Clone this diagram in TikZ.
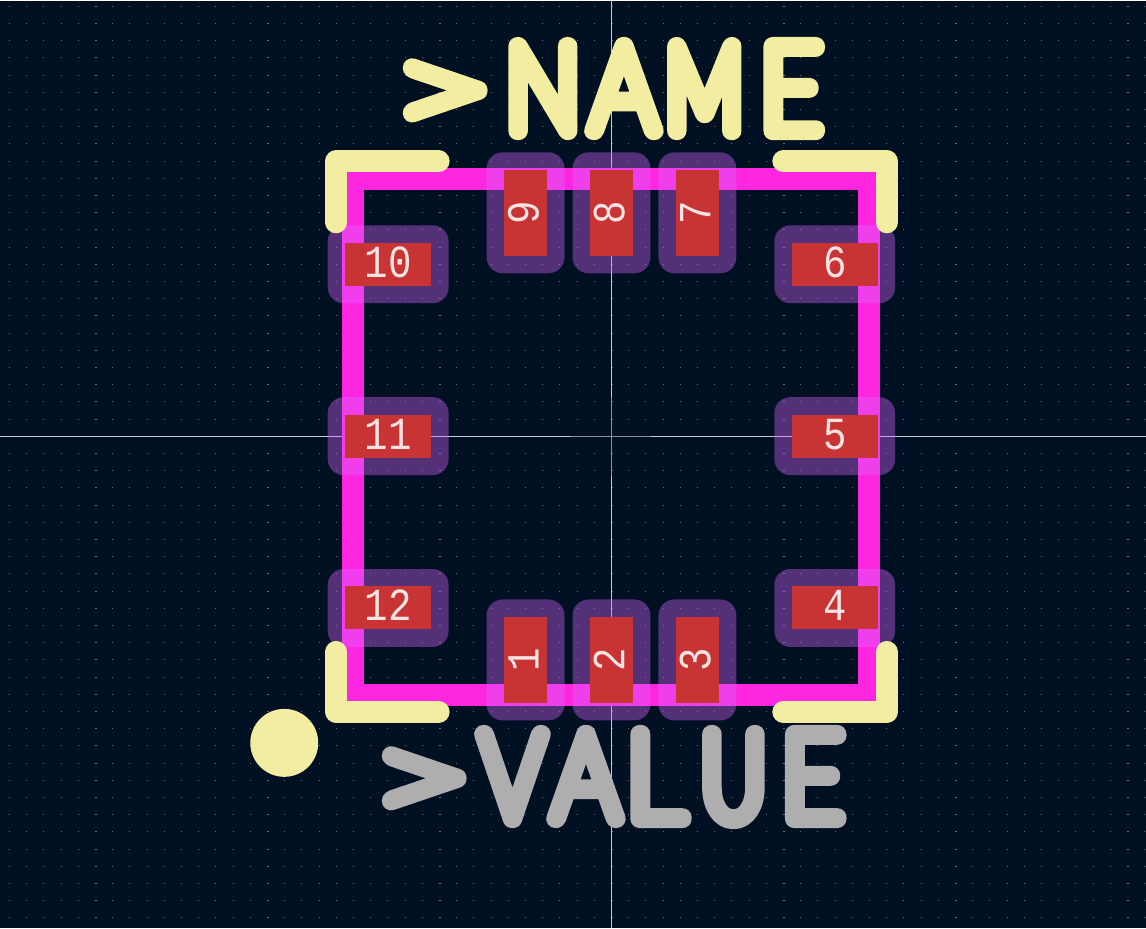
\documentclass[tikz,border=0pt]{standalone}
\usepackage{xcolor}
\usepackage{fontspec}
\usetikzlibrary{positioning}
\newfontfamily\silkfont{Lato Hairline}
\newfontfamily\padfont[FakeStretch=0.85]{Liberation Mono}
\definecolor{boardbg}{HTML}{001023}
\definecolor{silkyellow}{HTML}{F2EDA1}
\definecolor{silkgray}{HTML}{AEAEAE}
\definecolor{outlinepink}{HTML}{FF26E2}
\definecolor{padred}{HTML}{C83434}
\definecolor{padtext}{HTML}{F6E4E4}
\definecolor{maskpurple}{RGB}{218,100,255}
\newcommand{\strokedtext}[2]{\special{pdf:code q 1 j 1 J 2 Tr #1 w}#2\special{pdf:code Q}}
\newcommand{\silkchar}[3]{\makebox[#2pt][l]{\addfontfeature{FakeStretch=#1}#3}}
\tikzset{
    griddot/.style={fill=gray!85!boardbg},
    crossline/.style={draw=white!78!boardbg, line width=1pt},
    originline/.style={draw=white!55!boardbg, line width=1pt},
    outlinebox/.style={draw=outlinepink, line width=22pt, miter limit=10},
    silkline/.style={draw=silkyellow, line width=22pt, line cap=round, line join=round},
    maskh/.style={fill=maskpurple, fill opacity=0.39, rounded corners=16pt, minimum width=121pt, minimum height=78pt, inner sep=0pt},
    maskv/.style={fill=maskpurple, fill opacity=0.39, rounded corners=16pt, minimum width=78pt, minimum height=121pt, inner sep=0pt},
    padh/.style={fill=padred, text=padtext, minimum width=86pt, minimum height=43pt, inner sep=0pt, text height=30pt, text depth=4pt, font=\fontsize{46}{46}\selectfont\padfont},
    padv/.style={padh, rotate=90},
    silktext/.style={anchor=base west, inner sep=0pt, font=\fontsize{121}{121}\selectfont\silkfont}
}
\begin{document}
\begin{tikzpicture}[x=1pt,y=-1pt]
    \fill[boardbg] (0,0) rectangle (1146,928);
    % grid
    \foreach \i in {-35,...,31}
        \foreach \j in {-25,...,28}
            \fill[griddot] ({floor(611.5+17.2*\i)},{floor(436.3+17.2*\j)}) rectangle ++(1,1);
    \foreach \i in {-30,-20,-10,0,10,20,30}
        \foreach \j in {-25,...,28}
            \fill[griddot] ({floor(611.5+17.2*\i)},{floor(436.3+17.2*\j)}) rectangle ++(2,1);
    % cursor
    \coordinate (crossw) at (0,436.5);
    \coordinate (crosse) at (1146,436.5);
    \coordinate (crossn) at (611.5,0);
    \coordinate (crosss) at (611.5,928);
    \draw[crossline] (crossw) -- (crosse);
    \draw[crossline] (crossn) -- (crosss);
    \coordinate (origw) at (571,436.5);
    \coordinate (orige) at (651,436.5);
    \coordinate (orign) at (611.5,397);
    \coordinate (origs) at (611.5,476);
    \draw[originline] (origw) -- (orige);
    \draw[originline] (orign) -- (origs);
    % package outline
    \draw[outlinebox] (353,179) rectangle (869,695);
    % pads
    \foreach \name/\px/\py in {10/388/264,11/388/436,12/388/608,6/835/264,5/835/436,4/835/608} {
        \node[maskh] (mask\name) at (\px,\py) {};
        \node[padh] (pad\name) at (\px,\py) {\name};
    }
    \foreach \name/\px/\py in {9/525.5/212.5,8/611.5/212.5,7/697.5/212.5,1/525.5/660,2/611.5/660,3/697.5/660} {
        \node[maskv] (mask\name) at (\px,\py) {};
        \node[padv] (pad\name) at (\px,\py) {\name};
    }
    % silkscreen
    \draw[silkline] (336,222) -- (336,161) -- (438.5,161);
    \draw[silkline] (783.5,161) -- (887,161) -- (887,222);
    \draw[silkline] (336,652) -- (336,712) -- (438.5,712);
    \draw[silkline] (783.5,712) -- (887,712) -- (887,652);
    \node[fill=silkyellow, circle, inner sep=0pt, minimum size=68pt] (dot1) at (284,743) {};
    \node[silktext, text=silkyellow] (refname) at (389.5,130.5) {\strokedtext{18.5}{\silkchar{1.5}{116.5}{>}\silkchar{0.81}{85}{N}\silkchar{0.85}{75.5}{A}\silkchar{0.70}{94}{M}\silkchar{0.87}{60}{E}}};
    \node[silktext, text=silkgray] (refvalue) at (368.5,819) {\strokedtext{18.5}{\silkchar{1.5}{112.5}{>}\silkchar{0.81}{72}{V}\silkchar{0.85}{73}{A}\silkchar{0.96}{76}{L}\silkchar{0.72}{80}{U}\silkchar{0.87}{60}{E}}};
\end{tikzpicture}
\end{document}
